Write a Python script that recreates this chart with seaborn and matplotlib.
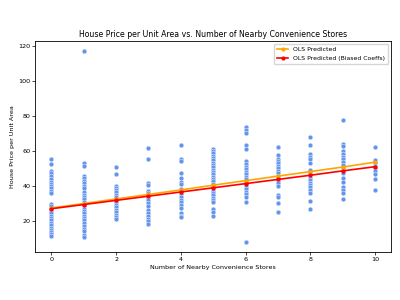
import seaborn as sns
import pandas as pd
import matplotlib.pyplot as plt

# Dados: preco por area para cada numero de lojas
precos = {
    0: [55.7, 52.5, 48.5, 47.2, 45.9, 44.0, 42.4, 41.3, 40.0, 38.6, 37.3, 35.8,
        29.9, 28.7, 26.8, 25.5, 24.2, 23.0, 21.5, 20.2, 18.9, 17.3, 16.0, 14.9,
        13.5, 12.4, 11.1],
    1: [117.5, 52.9, 51.6, 45.9, 44.3, 43.0, 41.5, 40.2, 38.6, 36.7, 34.8, 33.5,
        32.4, 31.0, 29.7, 28.2, 26.8, 25.7, 24.4, 22.9, 21.5, 20.2, 18.7, 17.1,
        15.2, 13.9, 12.0, 10.9],
    2: [50.6, 46.6, 40.2, 39.0, 37.7, 36.3, 34.8, 33.5, 32.0, 30.5, 29.1, 27.8,
        26.3, 24.9, 23.4, 22.1, 20.8],
    3: [61.6, 55.6, 41.5, 40.3, 37.3, 35.8, 34.6, 33.3, 32.0, 30.1, 28.2, 26.3,
        24.4, 22.5, 21.1, 20.0, 17.9],
    4: [63.2, 55.2, 54.0, 47.2, 44.3, 42.4, 40.9, 38.3, 36.7, 35.2, 33.5, 32.0,
        30.5, 28.9, 27.2, 24.4, 22.9, 21.9],
    5: [61.0, 59.9, 58.6, 57.3, 56.0, 54.6, 53.3, 51.9, 50.6, 49.3, 47.9, 46.6,
        45.3, 44.0, 42.6, 41.3, 40.0, 38.6, 37.3, 36.0, 34.6, 33.3, 32.0, 30.6,
        26.8, 24.9, 22.5],
    6: [73.8, 71.9, 70.6, 63.5, 61.3, 54.0, 52.5, 51.0, 49.5, 47.9, 46.6, 45.3,
        44.0, 42.4, 41.1, 39.6, 38.1, 36.5, 35.2, 33.9, 30.6, 7.6],
    7: [62.4, 57.6, 55.7, 54.2, 52.9, 51.6, 50.0, 48.7, 47.2, 45.7, 44.3, 42.8,
        41.5, 40.2, 34.8, 33.5, 30.1, 25.1],
    8: [67.9, 63.2, 58.0, 56.7, 55.4, 53.3, 49.1, 47.6, 46.2, 44.7, 43.4, 41.9,
        40.5, 39.2, 37.7, 36.2, 31.6, 26.7],
    9: [78.0, 64.1, 62.8, 60.1, 58.2, 56.7, 55.2, 53.5, 51.9, 50.0, 48.7, 47.2,
        44.7, 42.4, 39.6, 37.7, 36.2, 32.5],
    10: [62.2, 54.8, 52.9, 51.4, 50.0, 48.7, 47.0, 44.0, 37.9],
}

lojas = list(range(11))
ols_previsto = [27.3, 29.9, 32.5, 35.1, 37.7, 40.4, 43.0, 45.6, 48.2, 50.8, 53.6]
ols_viesado = [26.9, 29.3, 31.7, 34.1, 36.5, 38.9, 41.3, 43.7, 46.1, 48.6, 51.0]

df = pd.DataFrame([(k, v) for k, vals in precos.items() for v in vals],
                  columns=["lojas", "preco"])

fig, ax = plt.subplots(figsize=(4, 3), dpi=100)
fig.subplots_adjust(left=0.088, right=0.978, top=0.863, bottom=0.16)

sns.scatterplot(data=df, x="lojas", y="preco", color="cornflowerblue",
                s=12, edgecolor="white", linewidth=0.3, ax=ax)
ax.plot(lojas, ols_previsto, color="orange", marker="o", markersize=2,
        linewidth=1.2, label="OLS Predicted")
ax.plot(lojas, ols_viesado, color="red", marker="o", markersize=2,
        linewidth=1.2, label="OLS Predicted (Biased Coeffs)")

ax.set_title("House Price per Unit Area vs. Number of Nearby Convenience Stores",
             fontsize=5.6, pad=3)
ax.set_xlabel("Number of Nearby Convenience Stores", fontsize=4.6, labelpad=2)
ax.set_ylabel("House Price per Unit Area", fontsize=4.6, labelpad=2)
ax.tick_params(labelsize=4.6, length=2, width=0.5, pad=1.5)
for s in ax.spines.values():
    s.set_linewidth(0.6)
ax.legend(loc="upper right", fontsize=4.4, handlelength=1.8, borderpad=0.5,
          framealpha=0.8)

plt.savefig("out.png", dpi=100)
